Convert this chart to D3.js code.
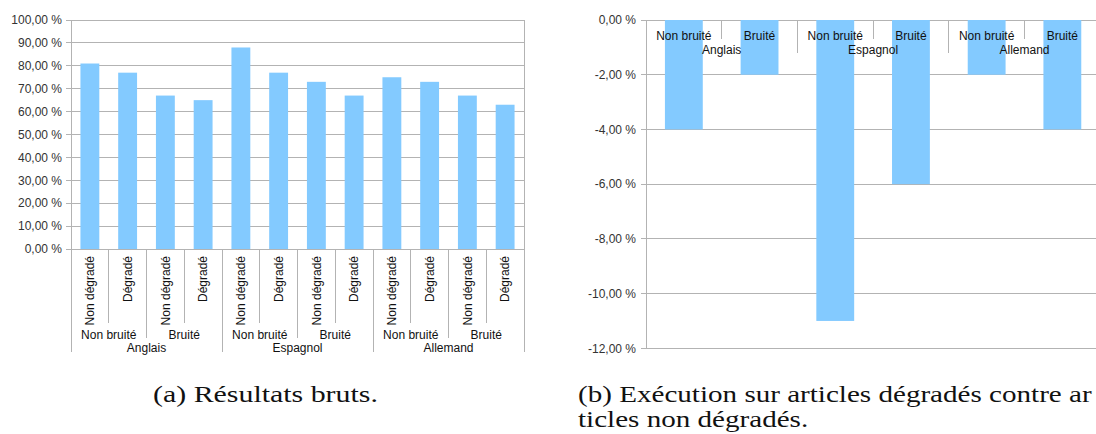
<!DOCTYPE html>
<html><head><meta charset="utf-8">
<script src="https://cdn.jsdelivr.net/npm/d3@7"></script>
<style>
body{margin:0;background:#fff;overflow:hidden}
svg text.ax{font-family:"Liberation Sans",Arial,sans-serif;font-size:12px}
svg text.cap{font-family:"Liberation Serif";font-size:24px;fill:#111}
</style>
</head><body>
<svg id="c" width="1096" height="434"></svg>
<script>
// ---- data ----
const languages = ["Anglais", "Espagnol", "Allemand"];
const noiseLevels = ["Non bruité", "Bruité"];
const degradations = ["Non dégradé", "Dégradé"];
const rawScores = [81, 77, 67, 65, 88, 77, 73, 67, 75, 73, 67, 63];
const diffScores = [-4, -2, -11, -6, -2, -4];
const ticksA = [0, 10, 20, 30, 40, 50, 60, 70, 80, 90, 100];
const ticksB = [0, -2, -4, -6, -8, -10, -12];
const captionA = "(a) Résultats bruts.";
const captionB = ["(b) Exécution sur articles dégradés contre ar", "ticles non dégradés."];

const svg = d3.select("#c");
const GRID = "#b3b3b3", BAR = "#83caff", TXT = "#333";
const fmt = v => (v < 0 ? "-" : "") + Math.abs(v).toFixed(2).replace(".", ",") + " %";

// ---- chart A ----
const keysA = [];
languages.forEach(l => noiseLevels.forEach(n => degradations.forEach(d => keysA.push({l, n, d}))));
keysA.forEach((k, i) => k.v = rawScores[i]);
const xA = d3.scaleBand().domain(d3.range(keysA.length)).range([71, 524]).paddingInner(0.5).paddingOuter(0.25);
const yA = d3.scaleLinear().domain([0, 100]).range([249, 20]);
const stepA = xA.step(), x0A = 71;
const gA = svg.append("g");
gA.selectAll("line.grid").data(ticksA).join("line")
  .attr("x1", 66).attr("x2", 524).attr("y1", d => yA(d)).attr("y2", d => yA(d))
  .attr("stroke", GRID).attr("shape-rendering", "crispEdges");
gA.selectAll("text.yl").data(ticksA).join("text").attr("class", "ax")
  .attr("x", 62).attr("y", d => yA(d)).attr("dy", "0.35em").attr("text-anchor", "end")
  .attr("fill", TXT).text(fmt);
// hierarchical axis dividers
const bndA = d3.range(keysA.length + 1);
gA.selectAll("line.div").data(bndA).join("line")
  .attr("x1", i => x0A + i * stepA).attr("x2", i => x0A + i * stepA)
  .attr("y1", i => (i === 0 || i === keysA.length) ? 20 : yA(0))
  .attr("y2", i => i % 4 === 0 ? 352 : (i % 2 === 0 ? 338 : 323))
  .attr("stroke", GRID).attr("shape-rendering", "crispEdges");
gA.selectAll("rect").data(keysA).join("rect")
  .attr("x", (d, i) => xA(i)).attr("width", xA.bandwidth())
  .attr("y", d => yA(d.v)).attr("height", d => yA(0) - yA(d.v)).attr("fill", BAR);
gA.selectAll("text.dl").data(keysA).join("text").attr("class", "ax")
  .attr("transform", (d, i) => `translate(${xA(i) + xA.bandwidth() / 2},256) rotate(-90)`)
  .attr("dy", "0.35em").attr("text-anchor", "end").attr("fill", "#111").text(d => d.d);
const noiseA = [];
languages.forEach(l => noiseLevels.forEach(n => noiseA.push(n)));
gA.selectAll("text.nl").data(noiseA).join("text").attr("class", "ax")
  .attr("x", (d, j) => x0A + (2 * j + 1) * stepA).attr("y", 338.5)
  .attr("text-anchor", "middle").attr("fill", "#111").text(d => d);
gA.selectAll("text.ll").data(languages).join("text").attr("class", "ax")
  .attr("x", (d, j) => x0A + (4 * j + 2) * stepA).attr("y", 351.5)
  .attr("text-anchor", "middle").attr("fill", "#111").text(d => d);

// ---- chart B ----
const keysB = [];
languages.forEach(l => noiseLevels.forEach(n => keysB.push({l, n})));
keysB.forEach((k, i) => k.v = diffScores[i]);
const x0B = 646, stepB = 75.7;
const xB = d3.scaleBand().domain(d3.range(keysB.length)).range([x0B, x0B + stepB * keysB.length]).paddingInner(0.5).paddingOuter(0.25);
const yB = d3.scaleLinear().domain([-12, 0]).range([348.3, 20]);
const gB = svg.append("g");
gB.selectAll("line.grid").data(ticksB).join("line")
  .attr("x1", 641).attr("x2", 1110).attr("y1", d => yB(d)).attr("y2", d => yB(d))
  .attr("stroke", GRID).attr("shape-rendering", "crispEdges");
gB.selectAll("text.yl").data(ticksB).join("text").attr("class", "ax")
  .attr("x", 636).attr("y", d => yB(d)).attr("dy", "0.35em").attr("text-anchor", "end")
  .attr("fill", TXT).text(fmt);
gB.append("line").attr("x1", x0B).attr("x2", x0B).attr("y1", yB(0)).attr("y2", yB(-12))
  .attr("stroke", GRID).attr("shape-rendering", "crispEdges");
const bndB = d3.range(1, keysB.length);
gB.selectAll("line.div").data(bndB).join("line")
  .attr("x1", i => x0B + i * xB.step()).attr("x2", i => x0B + i * xB.step())
  .attr("y1", yB(0)).attr("y2", i => i % 2 === 0 ? 53.3 : 39.3)
  .attr("stroke", GRID).attr("shape-rendering", "crispEdges");
gB.selectAll("rect").data(keysB).join("rect")
  .attr("x", (d, i) => xB(i)).attr("width", xB.bandwidth())
  .attr("y", yB(0)).attr("height", d => yB(d.v) - yB(0)).attr("fill", BAR);
gB.selectAll("text.nl").data(keysB).join("text").attr("class", "ax")
  .attr("x", (d, i) => xB(i) + xB.bandwidth() / 2).attr("y", 39.5)
  .attr("text-anchor", "middle").attr("fill", "#111").text(d => d.n);
gB.selectAll("text.ll").data(languages).join("text").attr("class", "ax")
  .attr("x", (d, j) => x0B + (2 * j + 1) * xB.step()).attr("y", 54)
  .attr("text-anchor", "middle").attr("fill", "#111").text(d => d);

// ---- captions ----
const capA = svg.append("text").attr("class", "cap").attr("x", 0).attr("y", 0).text(captionA);
const sx = 225 / capA.node().getComputedTextLength();
capA.attr("transform", `translate(153,402) scale(${sx},1)`);
const capB = captionB.map(t => svg.append("text").attr("class", "cap").text(t));
const sxB = 514 / capB[0].node().getComputedTextLength();
capB.forEach((c, i) => c.attr("transform", `translate(578,${402 + i * 25}) scale(${sxB},1)`));
</script>
</body></html>
